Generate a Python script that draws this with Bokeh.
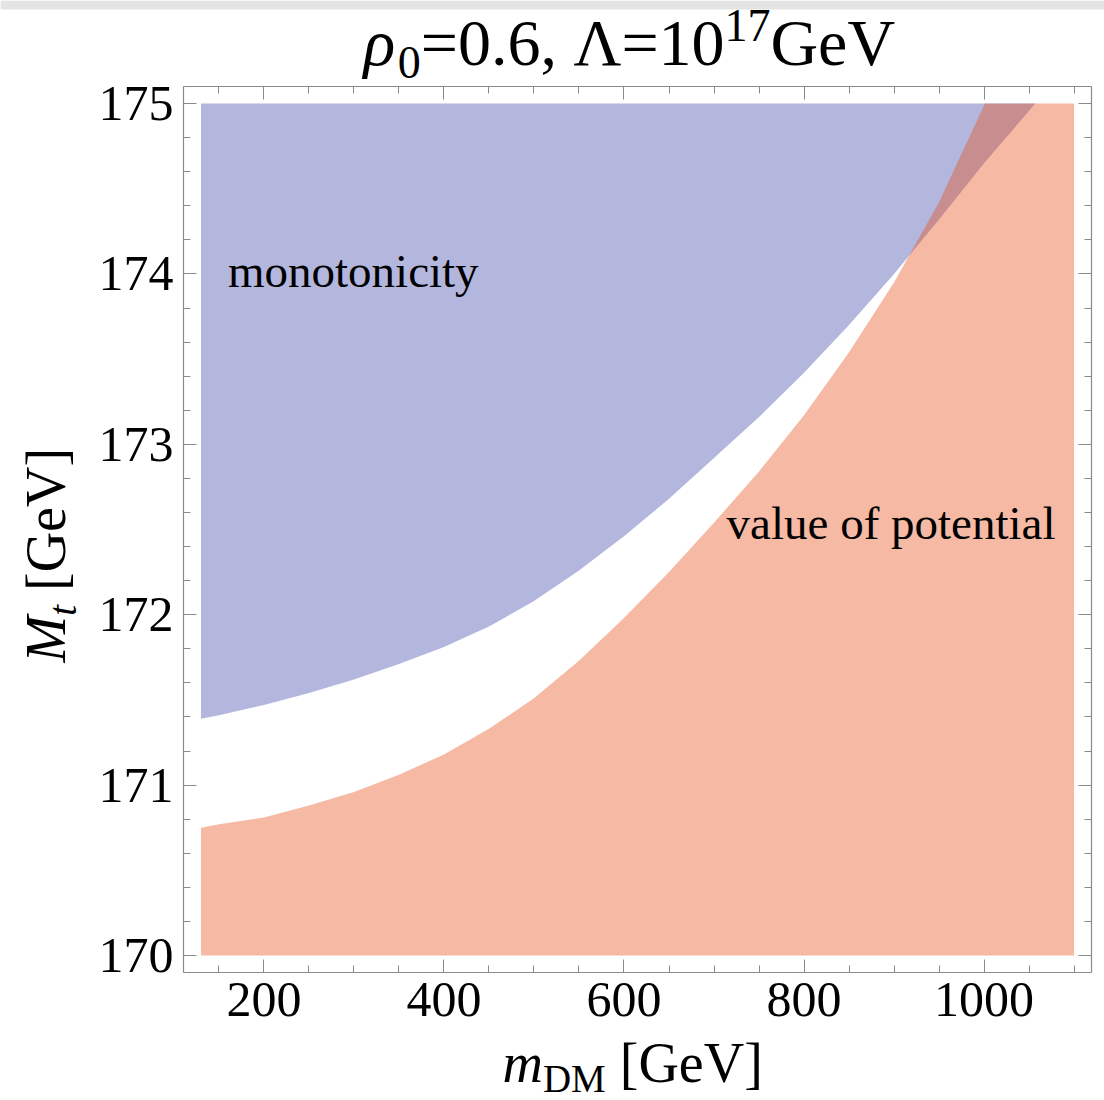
import math
from bokeh.plotting import figure
from bokeh.models import (Label, LinearAxis, FixedTicker, CustomJSTickFormatter,
                          BoxAnnotation)
from bokeh.embed import file_html
from bokeh.resources import INLINE

# ---- data ---------------------------------------------------------------
# edge of the "monotonicity" excluded region (Mt above this is excluded)
mdm_mono = [130, 150, 200, 250, 300, 350, 400, 450, 500, 550, 600, 650,
            700, 750, 800, 850, 900, 950, 1000, 1057]
mt_mono = [171.39, 171.41, 171.47, 171.54, 171.62, 171.71, 171.81, 171.93,
           172.08, 172.26, 172.46, 172.68, 172.92, 173.16, 173.42, 173.70,
           174.00, 174.32, 174.65, 175.00]

# edge of the "value of potential" excluded region (Mt below this)
mdm_pot = [130, 150, 200, 250, 300, 350, 400, 450, 500, 550, 600, 650,
           700, 750, 800, 850, 900, 950, 1001]
mt_pot = [170.75, 170.77, 170.81, 170.88, 170.96, 171.06, 171.18, 171.33,
          171.51, 171.73, 171.98, 172.25, 172.54, 172.84, 173.17, 173.54,
          173.95, 174.42, 175.00]

m_min, m_max = 130, 1100
mt_min, mt_max = 170.0, 175.0

x_ticks = [200, 400, 600, 800, 1000]
x_minor = [150, 200, 250, 300, 350, 400, 450, 500, 550, 600, 650, 700, 750,
           800, 850, 900, 950, 1000, 1050, 1100]
y_ticks = [170, 171, 172, 173, 174, 175]
y_minor = [round(170 + 0.2 * i, 1) for i in range(26)]

# ---- geometry -----------------------------------------------------------
W, H = 1104, 1100
# plot box inside the canvas (pixels)
BL, BR, BT, BB = 183, 1091, 86, 972
pad_x = 0.02 * (m_max - m_min)
pad_y = 0.02 * (mt_max - mt_min)
x0, x1 = m_min - pad_x, m_max + pad_x
y0, y1 = mt_min - pad_y, mt_max + pad_y
kx = (x1 - x0) / (BR - BL)
ky = (y1 - y0) / (BB - BT)


def sx(px):
    return x0 + (px - BL) * kx


def sy(py):
    return y0 + (BB - py) * ky


p = figure(width=W, height=H,
           x_range=(sx(0), sx(W)), y_range=(sy(H), sy(0)),
           output_backend="svg", toolbar_location=None, min_border=0)
p.grid.visible = False
p.background_fill_color = "white"
p.border_fill_color = "white"
p.outline_line_color = None

# thin grey strip along the top edge of the page
p.add_layout(BoxAnnotation(bottom=sy(9), fill_color="#e4e4e4", fill_alpha=1,
                           line_color=None))

# ---- regions ------------------------------------------------------------
mono_x = [m_min] + mdm_mono + [m_min]
mono_y = [mt_max] + mt_mono + [mt_max]
p.patch(mono_x, mono_y, fill_color="#b3b6dd", line_color=None)

pot_x = [m_min] + mdm_pot + [m_max, m_max, m_min]
pot_y = [mt_min] + mt_pot + [mt_max, mt_min, mt_min]
p.patch(pot_x, pot_y, fill_color="#e8501c", fill_alpha=0.4, line_color=None)

# ---- frame axes ---------------------------------------------------------
AX = "#8a8a8a"
FONT = "Liberation Serif"


def style(ax, major, minor, where, bounds, show):
    ax.fixed_location = where
    ax.bounds = bounds
    ax.ticker = FixedTicker(ticks=major, minor_ticks=minor)
    ax.axis_line_color = AX
    ax.axis_line_width = 1.2
    ax.major_tick_line_color = AX
    ax.minor_tick_line_color = AX
    ax.major_tick_in = 13
    ax.major_tick_out = 0
    ax.minor_tick_in = 7
    ax.minor_tick_out = 0
    ax.major_label_text_font = FONT
    ax.major_label_text_color = "black"
    if show:
        ax.major_label_text_font_size = "50px"
        ax.major_label_standoff = 10
    else:
        ax.formatter = CustomJSTickFormatter(code="return ''")
        ax.major_label_text_font_size = "1px"
        ax.major_label_standoff = 0


style(p.xaxis[0], x_ticks, x_minor, y0, (x0, x1), True)
style(p.yaxis[0], y_ticks, y_minor, x0, (y0, y1), True)
top = LinearAxis()
style(top, x_ticks, x_minor, y1, (x0, x1), False)
p.add_layout(top, "above")
right = LinearAxis()
style(right, y_ticks, y_minor, x1, (y0, y1), False)
p.add_layout(right, "right")

# ---- rich text helpers --------------------------------------------------
ADV = {'0': .5, '1': .5, '2': .5, '3': .5, '4': .5, '5': .5, '6': .5,
       '7': .5, '8': .5, '9': .5, '=': .564, '.': .25, ',': .25, ' ': .25,
       'Λ': .722, 'G': .722, 'e': .444, 'V': .722, '[': .333, ']': .333,
       'D': .722, 'M': .889, 'ρ': .5, 'm': .778, 't': .278}
ADV_I = {'m': .722, 'M': .833, 't': .278, 'ρ': .52}
BASE_FIX = 1 / 3   # renderer places the alphabetic baseline ~size/3 low


def width(text, size, italic):
    tbl = ADV_I if italic else {}
    return sum(tbl.get(c, ADV.get(c, .5)) for c in text) * size


def label(**kw):
    p.add_layout(Label(text_font=FONT, text_color="black", text_align="left",
                       text_baseline="alphabetic", **kw))


def rich_h(pieces, left_px, base_px):
    cx = left_px
    for text, size, italic, shift, gap in pieces:
        cx += gap
        label(x=sx(cx), y=sy(base_px - shift - size * BASE_FIX), text=text,
              text_font_size=f"{size}px",
              text_font_style="italic" if italic else "normal")
        cx += width(text, size, italic)


def rich_v(pieces, bottom_px, base_px):
    cy = bottom_px
    for text, size, italic, shift, gap in pieces:
        cy -= gap
        label(x=sx(base_px + shift - size * BASE_FIX), y=sy(cy), text=text,
              angle=math.pi / 2, text_font_size=f"{size}px",
              text_font_style="italic" if italic else "normal")
        cy -= width(text, size, italic)


# title
TS = 66
SS = int(TS * .7)
rich_h([("ρ", TS, True, 0, 0), ("0", SS, False, -TS * .2, 0),
        ("=0.6,", TS, False, 0, 0), ("Λ=10", TS, False, 0, TS * .25),
        ("17", SS, False, TS * .36, 0), ("GeV", TS, False, 0, 0)], 363, 64)

# axis labels
AS = 56
AB = int(AS * .7)
rich_h([("m", AS, True, 0, 0), ("DM", AB, False, -AS * .17, 0),
        ("[GeV]", AS, False, 0, AS * .25)], 502, 1081)
rich_v([("M", AS, True, 0, 0), ("t", AB, True, AS * .2, 0),
        ("[GeV]", AS, False, 0, AS * .25)], 662, 64)

# region names
p.add_layout(Label(x=160, y=174.02, text="monotonicity", text_font=FONT,
                   text_font_size="47px", text_color="black",
                   text_align="left", text_baseline="middle"))
p.add_layout(Label(x=714, y=172.54, text="value of potential", text_font=FONT,
                   text_font_size="47px", text_color="black",
                   text_align="left", text_baseline="middle"))

open("out.html", "w").write(file_html(p, INLINE))
